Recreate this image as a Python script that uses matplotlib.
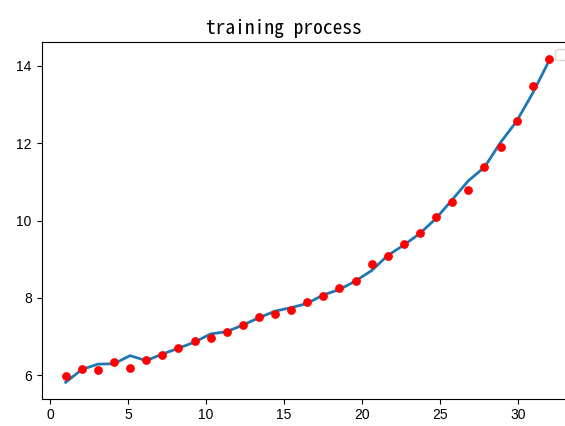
import numpy as np
import matplotlib
matplotlib.use("Agg")
import matplotlib.pyplot as plt

plt.rcParams['font.family'] = ['Liberation Sans', 'DejaVu Sans']

# epochs: 31 samples spread evenly over 1..32
steps = np.linspace(1, 32, 31)

observed = [5.99, 6.17, 6.15, 6.35, 6.20, 6.40, 6.53, 6.70, 6.90, 6.96,
            7.11, 7.29, 7.50, 7.58, 7.68, 7.90, 8.05, 8.25, 8.45, 8.88,
            9.09, 9.40, 9.69, 10.10, 10.49, 10.78, 11.38, 11.90, 12.57, 13.49,
            14.19]

fitted = [5.82, 6.15, 6.29, 6.30, 6.51, 6.38, 6.55, 6.70, 6.86, 7.07,
          7.13, 7.30, 7.49, 7.66, 7.75, 7.86, 8.08, 8.22, 8.44, 8.71,
          9.10, 9.37, 9.67, 10.06, 10.54, 11.03, 11.38, 12.02, 12.57, 13.30,
          14.12]

fig = plt.figure(figsize=(5.65, 4.26), dpi=100)
# the original picture is cropped: the right spine sits just past the edge
ax = fig.add_axes([41.5 / 565, 1 - 398.5 / 426, (573 - 41.5) / 565, (398.5 - 42.4) / 426])
ax.spines['right'].set_visible(False)

ax.scatter(steps, observed, c='red', s=28, zorder=3)
ax.plot(steps, fitted, linewidth=2)
ax.legend(loc='upper right')
ax.set_title("training process", x=(284 - 41.5) / (573 - 41.5),
             family=['Noto Sans Mono CJK SC', 'DejaVu Sans Mono'], fontsize=14)

fig.savefig("out.png", dpi=100)
